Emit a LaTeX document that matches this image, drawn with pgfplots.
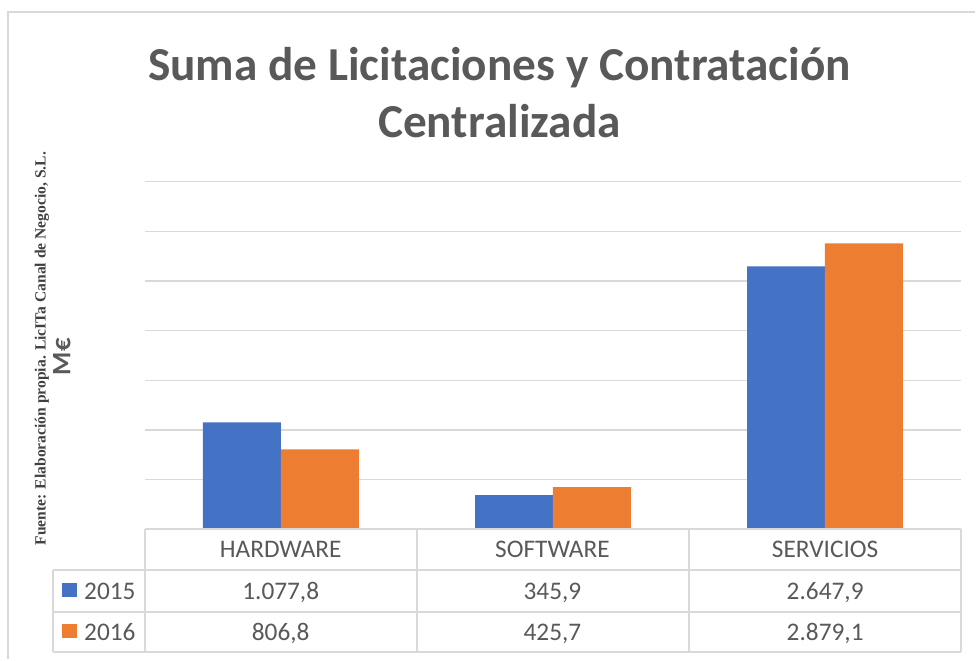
\documentclass[border=0pt]{standalone}
\usepackage{fontspec}
\setmainfont{Carlito}
\newfontfamily\srcfont{Liberation Serif}
\usepackage{pgfplots}
\pgfplotsset{compat=1.18}
\definecolor{blue15}{HTML}{4472C4}
\definecolor{orange16}{HTML}{ED7D31}
\definecolor{txt}{HTML}{595959}
\definecolor{gridc}{HTML}{D9D9D9}

\begin{document}
\begin{tikzpicture}[x=0.75pt,y=-0.75pt]
\path (0,0) rectangle (976,660);
% outer chart border (left and top visible)
\draw[gridc, line width=1.5pt] (8,660) -- (8,12) -- (976,12);

% plot area: px (145,530) bottom-left -> 108.75pt, -397.5pt
\begin{axis}[
    at={(108.75pt,-397.5pt)}, anchor=south west,
    scale only axis, width=612.75pt, height=261pt,
    xmin=-0.5, xmax=2.5, ymin=0, ymax=3500,
    xtick=\empty,
    ytick={0,500,...,3500}, yticklabels={},
    ymajorgrids, grid style={gridc, line width=1pt},
    axis line style={draw=none}, tick style={draw=none},
    ybar=0pt, bar width=58.5pt,
]
% 2015
\addplot[fill=blue15, draw=none] coordinates {(0,1077.8) (1,345.9) (2,2647.9)};
% 2016
\addplot[fill=orange16, draw=none] coordinates {(0,806.8) (1,425.7) (2,2879.1)};
\end{axis}

% data table
\begin{scope}[gridc, line width=1.5pt]
\draw (145,530) -- (962,530);
\foreach \xx in {145,417,690,962} \draw (\xx,530) -- (\xx,653);
\foreach \yy in {571,613,653} \draw (53,\yy) -- (962,\yy);
\draw (53,571) -- (53,653);
\end{scope}

\begin{scope}[every node/.style={text=txt, anchor=base, font=\fontsize{19}{23}\selectfont}]
\node at (281,558) {HARDWARE};
\node at (553,558) {SOFTWARE};
\node at (826,558) {SERVICIOS};
\node at (281,600) {1.077,8};
\node at (553,600) {345,9};
\node at (826,600) {2.647,9};
\node at (281,641) {806,8};
\node at (553,641) {425,7};
\node at (826,641) {2.879,1};
\node at (110,600) {2015};
\node at (110,641) {2016};
\end{scope}
\fill[blue15] (62,584) rectangle (77,598);
\fill[orange16] (62,625) rectangle (77,639);

% title
\node[text=txt, anchor=base, font=\bfseries\fontsize{35.5}{43}\selectfont] at (500,81) {Suma de Licitaciones y Contratación};
\node[text=txt, anchor=base, font=\bfseries\fontsize{35.5}{43}\selectfont] at (500,138) {Centralizada};

% axis title and source
\node[text=txt, rotate=90, font=\bfseries\fontsize{20}{24}\selectfont] at (62,357) {M€};
\node[text=black!75, rotate=90, font=\srcfont\bfseries\fontsize{11.7}{14}\selectfont] at (42,349) {Fuente: Elaboración propia. LicITa Canal de Negocio, S.L.};
\end{tikzpicture}
\end{document}
